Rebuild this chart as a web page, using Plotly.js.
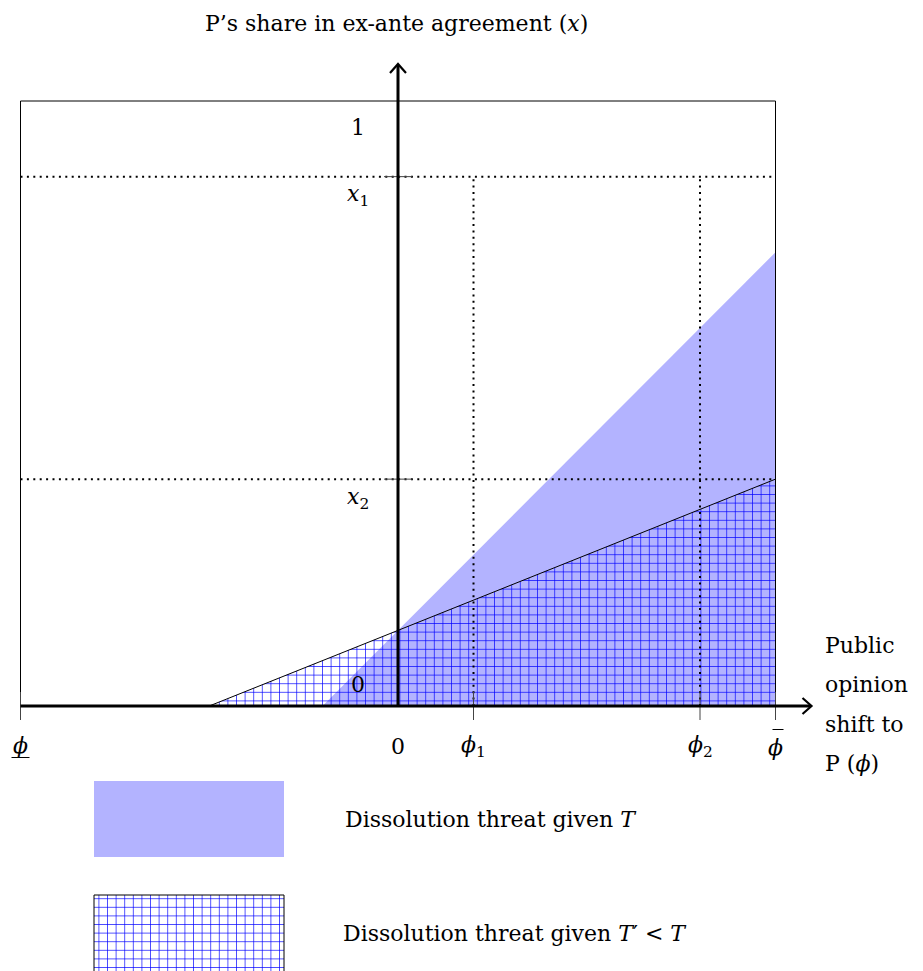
<!DOCTYPE html>
<html><head><meta charset="utf-8">
<script src="https://cdn.plot.ly/plotly-3.0.1.min.js"></script>
<style>body{margin:0;padding:0;background:#fff}#chart{width:923px;height:971px}</style>
</head><body><div id="chart"></div>
<script>
// ---- data (model units: phi on x, share x on y) ----
const phiMin = -1, phiMax = 1;
const phiTicks = [-1, 0, 0.2, 0.8, 1];
const phiTickLabels = ['<i>ϕ</i>', '0', '<i>ϕ</i><sub>1</sub>', '<i>ϕ</i><sub>2</sub>', '<i>ϕ</i>'];
const shareTicks = [0, 0.375, 0.875, 1];
const shareTickLabels = ['0', '<i>x</i><sub>2</sub>', '<i>x</i><sub>1</sub>', '1'];
const threatT_phi = [-0.2, 1, 1];
const threatT_share = [0, 0, 0.75];
const threatTp_phi = [-0.5, 1, 1];
const threatTp_share = [0, 0, 0.375];
const x1 = 0.875, x2 = 0.375, phi1 = 0.2, phi2 = 0.8;

// ---- pixel mapping ----
const W = 923, H = 971;
const ox = 398, oy = 706, sx = 377.5, sy = 605;
const xr = [-ox / sx, (W - ox) / sx];
const yr = [-(H - oy) / sy, oy / sy];
const dxp = p => p / sx, dyp = p => p / sy;
const pxX = v => ox + v * sx;

const FONT = 'DejaVu Serif';
const FS = 22;
const BLUE_FILL = '#b3b3ff';
const pattern = {shape: '+', fgcolor: '#0000ff', bgcolor: 'rgba(0,0,0,0)', size: 8.6, solidity: 0.15};

const traces = [
  {x: threatT_phi, y: threatT_share, type: 'scatter', mode: 'lines', fill: 'toself',
   fillcolor: BLUE_FILL, line: {width: 0}, hoverinfo: 'skip', showlegend: false},
  {x: threatTp_phi, y: threatTp_share, type: 'scatter', mode: 'lines', fill: 'toself',
   fillcolor: 'rgba(0,0,0,0)', fillpattern: pattern, line: {width: 0},
   hoverinfo: 'skip', showlegend: false},
  // upper boundary of the T' region
  {x: [threatTp_phi[0], threatTp_phi[2]], y: [threatTp_share[0], threatTp_share[2]],
   type: 'scatter', mode: 'lines', line: {color: 'black', width: 1}, hoverinfo: 'skip', showlegend: false},
  // legend swatch (pixel axes)
  {x: [94, 284, 284, 94, 94], y: [895, 895, 972, 972, 895], xaxis: 'x2', yaxis: 'y2',
   type: 'scatter', mode: 'lines', fill: 'toself', fillcolor: 'rgba(0,0,0,0)',
   fillpattern: pattern, line: {width: 0}, hoverinfo: 'skip', showlegend: false},
  {x: [94, 94, 284, 284], y: [972, 895, 895, 972], xaxis: 'x2', yaxis: 'y2',
   type: 'scatter', mode: 'lines', line: {color: 'black', width: 1}, hoverinfo: 'skip', showlegend: false}
];

const shapes = [];
const dotted = {color: 'black', width: 2, dash: '2px,4.4px'};
// box
shapes.push({type: 'rect', xref: 'x', yref: 'y', x0: phiMin, x1: phiMax, y0: 0, y1: 1,
  line: {color: 'black', width: 1}, fillcolor: 'rgba(0,0,0,0)'});
// dotted guides
[x1, x2].forEach(v => shapes.push({type: 'line', xref: 'x', yref: 'y', x0: phiMin, x1: phiMax, y0: v, y1: v, line: dotted}));
[phi1, phi2].forEach(v => shapes.push({type: 'line', xref: 'x', yref: 'y', x0: v, x1: v, y0: 0, y1: x1, line: dotted}));
// ticks
const tickLine = {color: '#444', width: 1};
[x2, x1].forEach(v => shapes.push({type: 'line', xref: 'x', yref: 'y', x0: -dxp(14), x1: dxp(14), y0: v, y1: v, line: tickLine}));
[phiMin, phi1, phi2, phiMax].forEach(v => shapes.push({type: 'line', xref: 'x', yref: 'y', x0: v, x1: v, y0: -dyp(14), y1: dyp(14), line: tickLine}));
// thick axes
const axLine = {color: 'black', width: 3};
const xEnd = phiMax + dxp(35), yEnd = 1 + dyp(36);
shapes.push({type: 'line', xref: 'x', yref: 'y', x0: phiMin, x1: xEnd, y0: 0, y1: 0, line: axLine});
shapes.push({type: 'line', xref: 'x', yref: 'y', x0: 0, x1: 0, y0: 0, y1: yEnd, line: axLine});
// arrowheads
shapes.push({type: 'path', xref: 'x', yref: 'y',
  path: `M ${xEnd - dxp(8)} ${dyp(8)} L ${xEnd + dxp(1)} 0 L ${xEnd - dxp(8)} ${-dyp(8)}`,
  line: {color: 'black', width: 2.2}});
shapes.push({type: 'path', xref: 'x', yref: 'y',
  path: `M ${-dxp(8)} ${yEnd - dyp(8)} L 0 ${yEnd + dyp(1)} L ${dxp(8)} ${yEnd - dyp(8)}`,
  line: {color: 'black', width: 2.2}});
// under/over bars for phi bounds
shapes.push({type: 'line', xref: 'x2', yref: 'y2', x0: pxX(phiMin) - 9, x1: pxX(phiMin) + 9, y0: 757.5, y1: 757.5, line: {color: 'black', width: 1}});
shapes.push({type: 'line', xref: 'x2', yref: 'y2', x0: pxX(phiMax) - 3, x1: pxX(phiMax) + 8, y0: 729.5, y1: 729.5, line: {color: 'black', width: 1}});
// legend blue swatch (pixel axes)
shapes.push({type: 'rect', xref: 'x2', yref: 'y2', x0: 94, x1: 284, y0: 781, y1: 857,
  fillcolor: BLUE_FILL, line: {width: 0}, layer: 'below'});

const ann = [];
const txt = (x, y, text, opts) => Object.assign({x, y, text, showarrow: false,
  font: {family: FONT, size: FS, color: 'black'}}, opts);
// phi tick labels
const phiLabelY = [-dyp(39), -dyp(40), -dyp(40), -dyp(40), -dyp(41)];
phiTicks.forEach((v, i) => ann.push(txt(v, phiLabelY[i], phiTickLabels[i], {xref: 'x', yref: 'y'})));
// share tick labels
const shareOffsets = {0: 22, 0.375: -19, 0.875: -19, 1: -26};
shareTicks.forEach((v, i) => ann.push(txt(-dxp(40), v + dyp(shareOffsets[v]), shareTickLabels[i], {xref: 'x', yref: 'y'})));
// axis titles
ann.push(txt(396, 23, "P’s share in ex-ante agreement (<i>x</i>)", {xref: 'x2', yref: 'y2'}));
['Public', 'opinion', 'shift to', 'P (<i>ϕ</i>)'].forEach((t, i) =>
  ann.push(txt(823, 645 + i * 39.5, t, {xref: 'x2', yref: 'y2', xanchor: 'left'})));
// legend labels
ann.push(txt(343, 819, 'Dissolution threat given <i>T</i>', {xref: 'x2', yref: 'y2', xanchor: 'left'}));
ann.push(txt(341, 933, 'Dissolution threat given <i>T</i>′ &lt; <i>T</i>', {xref: 'x2', yref: 'y2', xanchor: 'left'}));

const layout = {
  width: W, height: H, margin: {l: 0, r: 0, t: 0, b: 0, pad: 0},
  paper_bgcolor: 'white', plot_bgcolor: 'white', showlegend: false,
  xaxis: {range: xr, visible: false, fixedrange: true},
  yaxis: {range: yr, visible: false, fixedrange: true},
  xaxis2: {range: [0, W], overlaying: 'x', visible: false, fixedrange: true},
  yaxis2: {range: [H, 0], overlaying: 'y', visible: false, fixedrange: true},
  shapes, annotations: ann
};
Plotly.newPlot('chart', traces, layout, {staticPlot: true, displayModeBar: false});
</script></body></html>
